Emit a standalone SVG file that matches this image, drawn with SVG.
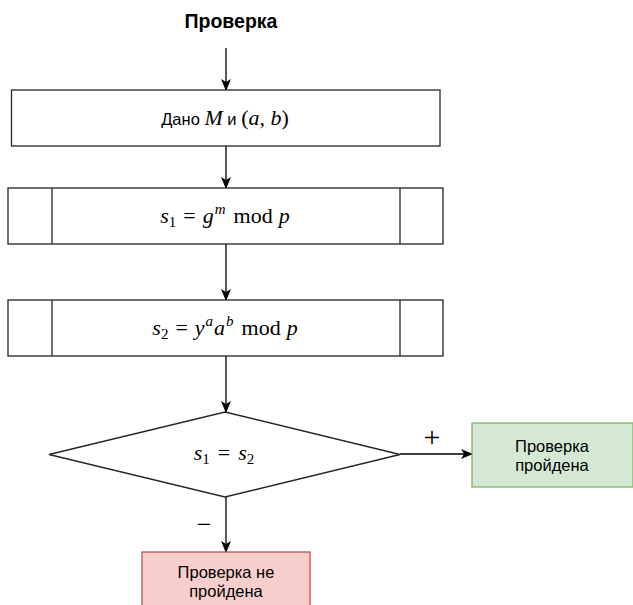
<svg xmlns="http://www.w3.org/2000/svg" width="633" height="605" viewBox="0 0 633 605">
<defs>
<marker id="arr" markerUnits="userSpaceOnUse" markerWidth="12" markerHeight="10" viewBox="0 0 12 10" refX="11" refY="5" orient="auto">
<path d="M0,0 L12,5 L0,10 L3,5 Z" fill="#000"/>
</marker>
<style>
.box{fill:#fff;stroke:#262626;stroke-width:1.3}
.ln{fill:none;stroke:#000;stroke-width:1.3}
.sans{font-family:"Liberation Sans",Arial,sans-serif;font-size:16.5px;fill:#000}
.math{font-family:"Liberation Serif","Times New Roman",serif;font-size:22px;fill:#000}
.it{font-style:italic}
.sub{font-size:15px}
.sign{font-family:"Liberation Serif","Times New Roman",serif;font-size:30px;fill:#000}
.title{font-family:"Liberation Sans",Arial,sans-serif;font-size:19.5px;font-weight:bold;fill:#000}
</style>
</defs>
<rect width="633" height="605" fill="#fff"/>

<g id="title">
<text class="title" x="231" y="28" text-anchor="middle">Проверка</text>
</g>

<g id="connectors">
<line class="ln" x1="226" y1="48" x2="226" y2="90" marker-end="url(#arr)"/>
<line class="ln" x1="226" y1="146" x2="226" y2="188" marker-end="url(#arr)"/>
<line class="ln" x1="226" y1="244" x2="226" y2="300" marker-end="url(#arr)"/>
<line class="ln" x1="226" y1="356" x2="226" y2="412" marker-end="url(#arr)"/>
<line class="ln" x1="400" y1="454" x2="472" y2="454" marker-end="url(#arr)"/>
<line class="ln" x1="226" y1="497" x2="226" y2="552" marker-end="url(#arr)"/>
<text class="sign" x="432" y="447" text-anchor="middle">+</text>
<text class="sign" x="204" y="533" text-anchor="middle" style="font-size:26px">−</text>
</g>

<g id="given">
<rect class="box" x="11.5" y="90" width="428.5" height="56"/>
<text x="225" y="125" text-anchor="middle"><tspan class="sans">Дано </tspan><tspan class="math it">M</tspan><tspan class="sans"> и </tspan><tspan class="math">(</tspan><tspan class="math it">a</tspan><tspan class="math">, </tspan><tspan class="math it">b</tspan><tspan class="math">)</tspan></text>
</g>

<g id="s1">
<rect class="box" x="8" y="188" width="435" height="56"/>
<line class="box" x1="52" y1="188" x2="52" y2="244"/>
<line class="box" x1="400" y1="188" x2="400" y2="244"/>
<text class="math" x="225" y="223" text-anchor="middle"><tspan class="it">s</tspan><tspan class="sub" dy="4">1</tspan><tspan dy="-4" dx="7">=</tspan><tspan class="it" dx="7">g</tspan><tspan class="it sub" dy="-9" dx="1">m</tspan><tspan dy="9" dx="8">mod</tspan><tspan class="it" dx="6">p</tspan></text>
</g>

<g id="s2">
<rect class="box" x="8" y="300" width="435" height="56"/>
<line class="box" x1="52" y1="300" x2="52" y2="356"/>
<line class="box" x1="400" y1="300" x2="400" y2="356"/>
<text class="math" x="225" y="335" text-anchor="middle"><tspan class="it">s</tspan><tspan class="sub" dy="4">2</tspan><tspan dy="-4" dx="7">=</tspan><tspan class="it" dx="7">y</tspan><tspan class="it sub" dy="-9" dx="1">a</tspan><tspan class="it" dy="9" dx="1">a</tspan><tspan class="it sub" dy="-9" dx="1">b</tspan><tspan dy="9" dx="8">mod</tspan><tspan class="it" dx="6">p</tspan></text>
</g>

<g id="decision">
<polygon class="box" points="225,412 400,454.5 225,497 49,454.5" stroke="#000"/>
<text class="math" x="224" y="460" text-anchor="middle"><tspan class="it">s</tspan><tspan class="sub" dy="4">1</tspan><tspan dy="-4" dx="8">=</tspan><tspan class="it" dx="8">s</tspan><tspan class="sub" dy="4">2</tspan></text>
</g>

<g id="passed">
<rect x="472" y="423" width="161" height="64" fill="#d5e8d4" stroke="#82b366" stroke-width="1.3"/>
<text class="sans" x="552" y="452" text-anchor="middle">Проверка</text>
<text class="sans" x="552" y="471" text-anchor="middle">пройдена</text>
</g>

<g id="failed">
<rect x="142" y="552" width="168" height="64" fill="#f8cecc" stroke="#b85450" stroke-width="1.3"/>
<text class="sans" x="226" y="578" text-anchor="middle">Проверка не</text>
<text class="sans" x="226" y="597" text-anchor="middle">пройдена</text>
</g>
</svg>
